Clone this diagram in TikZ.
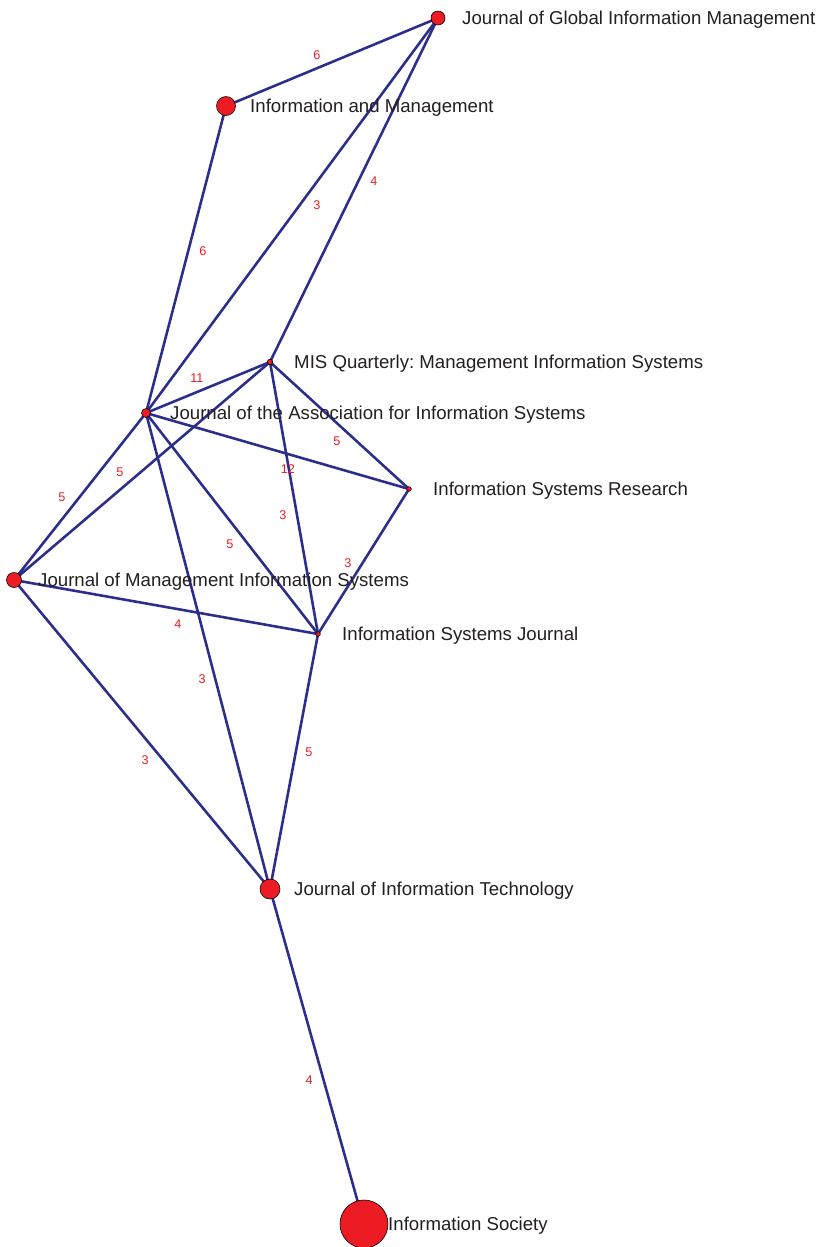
\documentclass[tikz,border=0pt]{standalone}
\usepackage{fontspec}
\setmainfont{Liberation Sans}
\usetikzlibrary{positioning, backgrounds}
\definecolor{edgeblue}{RGB}{44,46,140}
\definecolor{nodered}{RGB}{237,28,36}
\definecolor{labelgrey}{RGB}{35,31,32}
\frenchspacing
\tikzset{
  journal/.style={circle, draw=black, line width=0.5pt, fill=nodered, inner sep=0pt, minimum size=#1},
  jlabel/.style={inner sep=0pt, text height=11.4pt, text depth=0pt, text=labelgrey, font=\fontsize{15.9}{19}\selectfont},
  link/.style={draw=edgeblue, line width=2.2pt},
  weight/.style={text=nodered, font=\fontsize{10.8}{12}\selectfont, inner sep=0pt}
}

\begin{document}
\begin{tikzpicture}[x=0.03cm, y=-0.03cm]
\useasboundingbox (0,0) rectangle (822,1247);
% journals
\node [journal=0.42cm] (jgim) at (438,18) {};
\node [journal=0.57cm] (im) at (226,106) {};
\node [journal=0.165cm] (misq) at (270,362) {};
\node [journal=0.27cm] (jais) at (146,413) {};
\node [journal=0.14cm] (isr) at (409,489) {};
\node [journal=0.45cm] (jmis) at (14,580) {};
\node [journal=0.14cm] (isj) at (318,634) {};
\node [journal=0.6cm] (jit) at (270,889) {};
\node [journal=1.44cm] (soc) at (364,1224) {};
% names
\node [jlabel, right=0.72cm of jgim.center] (jgimtxt) {Journal of Global Information Management};
\node [jlabel, right=0.72cm of im.center] (imtxt) {Information and Management};
\node [jlabel, right=0.72cm of misq.center] (misqtxt) {MIS Quarterly: Management Information Systems};
\node [jlabel, right=0.72cm of jais.center] (jaistxt) {Journal of the Association for Information Systems};
\node [jlabel, right=0.72cm of isr.center] (isrtxt) {Information Systems Research};
\node [jlabel, right=0.72cm of jmis.center] (jmistxt) {Journal of Management Information Systems};
\node [jlabel, right=0.72cm of isj.center] (isjtxt) {Information Systems Journal};
\node [jlabel, right=0.72cm of jit.center] (jittxt) {Journal of Information Technology};
\node [jlabel, right=0.72cm of soc.center] (soctxt) {Information Society};
% links
\begin{pgfonlayer}{background}
\draw [link] (im.center) -- node[weight, pos=0.45, shift={(-4.5,-10.8)}]{6} (jgim.center);
\draw [link] (jais.center) -- node[weight, pos=0.547, shift={(11.1,8.2)}]{3} (jgim.center);
\draw [link] (misq.center) -- node[weight, pos=0.544, shift={(12.6,6.1)}]{4} (jgim.center);
\draw [link] (jais.center) -- node[weight, pos=0.54, shift={(13.6,3.5)}]{6} (im.center);
\draw [link] (jais.center) -- node[weight, pos=0.45, shift={(-4.9,-12)}]{11} (misq.center);
\draw [link] (jmis.center) -- node[weight, pos=0.448, shift={(-8.8,-10.3)}]{5} (misq.center);
\draw [link] (misq.center) -- node[weight, pos=0.554, shift={(-13.6,2.4)}]{3} (isj.center);
\draw [link] (jais.center) -- node[weight, pos=0.555, shift={(-4,13.8)}]{12} (isr.center);
\draw [link] (misq.center) -- node[weight, pos=0.546, shift={(-8.9,9.7)}]{5} (isr.center);
\draw [link] (isr.center) -- node[weight, pos=0.556, shift={(-10.4,-6.6)}]{3} (isj.center);
\draw [link] (jais.center) -- node[weight, pos=0.554, shift={(-10.9,-8.5)}]{5} (jmis.center);
\draw [link] (jais.center) -- node[weight, pos=0.553, shift={(-11.2,8.7)}]{5} (isj.center);
\draw [link] (jais.center) -- node[weight, pos=0.552, shift={(-12.4,3.2)}]{3} (jit.center);
\draw [link] (jmis.center) -- node[weight, pos=0.548, shift={(-2.6,14.4)}]{4} (isj.center);
\draw [link] (jmis.center) -- node[weight, pos=0.554, shift={(-10.8,8.8)}]{3} (jit.center);
\draw [link] (isj.center) -- node[weight, pos=0.453, shift={(12.7,2.4)}]{5} (jit.center);
\draw [link] (jit.center) -- node[weight, pos=0.559, shift={(-13.5,3.7)}]{4} (soc.center);
\end{pgfonlayer}
\end{tikzpicture}
\end{document}
